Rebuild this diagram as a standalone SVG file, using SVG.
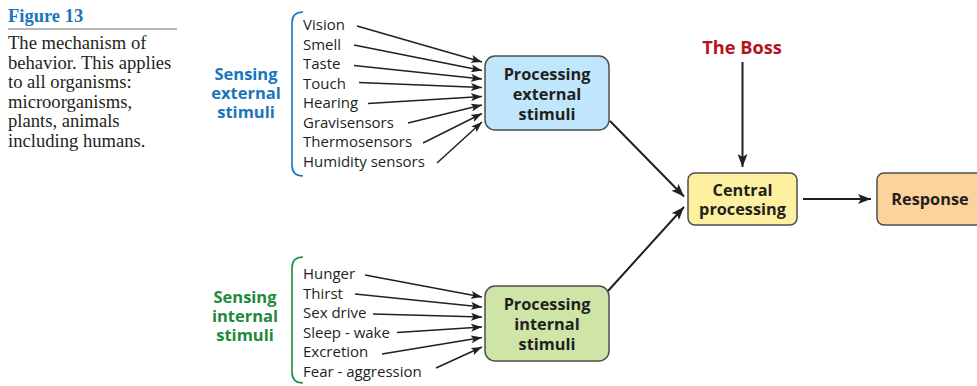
<svg xmlns="http://www.w3.org/2000/svg" width="977" height="386" viewBox="0 0 977 386">
<style>
.cap{font-family:"Liberation Serif","Times New Roman",serif;font-size:18.6px;fill:#231f20}
.fig{font-family:"Liberation Serif","Times New Roman",serif;font-size:18.5px;font-weight:bold;fill:#1a75bb}
.item{font-family:"Open Sans","Noto Sans",sans-serif;font-size:15px;fill:#231f20}
.head{font-family:"Open Sans","Noto Sans",sans-serif;font-size:16.5px;font-weight:bold;text-anchor:middle}
.box{stroke:#4d4d4d;stroke-width:1.5}
.btxt{font-family:"Open Sans","Noto Sans",sans-serif;font-size:16.3px;font-weight:bold;fill:#231f20;text-anchor:middle}
.ln{stroke:#231f20;stroke-width:1.5;fill:none;marker-end:url(#ah)}
.ln2{stroke:#231f20;stroke-width:2;fill:none;marker-end:url(#ah2)}
</style>
<defs>
<marker id="ah" markerUnits="userSpaceOnUse" markerWidth="12" markerHeight="8" refX="11" refY="4" orient="auto">
<path d="M0,0 L11,4 L0,8 L2.5,4 z" fill="#231f20"/>
</marker>
<marker id="ah2" markerUnits="userSpaceOnUse" markerWidth="14" markerHeight="10" refX="13" refY="5" orient="auto">
<path d="M0,0 L13,5 L0,10 L3,5 z" fill="#231f20"/>
</marker>
</defs>

<g id="caption">
<text class="fig" x="8" y="22">Figure 13</text>
<line x1="8" y1="29" x2="177" y2="29" stroke="#6d6e71" stroke-width="1.2"/>
<text class="cap" x="8" y="49">The mechanism of</text>
<text class="cap" x="8" y="69">behavior. This applies</text>
<text class="cap" x="8" y="88">to all organisms:</text>
<text class="cap" x="8" y="108">microorganisms,</text>
<text class="cap" x="8" y="127">plants, animals</text>
<text class="cap" x="8" y="147">including humans.</text>
</g>

<g id="sensing-external">
<text class="head" fill="#1a75bb" x="246" y="80">Sensing</text>
<text class="head" fill="#1a75bb" x="246" y="99">external</text>
<text class="head" fill="#1a75bb" x="246" y="118">stimuli</text>
<path d="M303,12 Q292,12 292,23 L292,165 Q292,176 303,176" fill="none" stroke="#1a75bb" stroke-width="1.6"/>
<text class="item" x="303" y="30">Vision</text>
<text class="item" x="303" y="49.5">Smell</text>
<text class="item" x="303" y="69">Taste</text>
<text class="item" x="303" y="88.5">Touch</text>
<text class="item" x="303" y="108">Hearing</text>
<text class="item" x="303" y="127.5">Gravisensors</text>
<text class="item" x="303" y="147">Thermosensors</text>
<text class="item" x="303" y="166.5">Humidity sensors</text>
</g>

<g id="sensing-internal">
<text class="head" fill="#1f8a3b" x="245" y="303">Sensing</text>
<text class="head" fill="#1f8a3b" x="245" y="322">internal</text>
<text class="head" fill="#1f8a3b" x="245" y="341">stimuli</text>
<path d="M303,257 Q292,257 292,268 L292,372 Q292,383 303,383" fill="none" stroke="#1f8a3b" stroke-width="1.6"/>
<text class="item" x="303" y="279">Hunger</text>
<text class="item" x="303" y="298.5">Thirst</text>
<text class="item" x="303" y="318">Sex drive</text>
<text class="item" x="303" y="337.5">Sleep - wake</text>
<text class="item" x="303" y="357">Excretion</text>
<text class="item" x="303" y="376.5">Fear - aggression</text>
</g>

<g id="processing-external">
<rect class="box" x="485" y="56" width="124" height="74" rx="10" fill="#bfe6fa"/>
<text class="btxt" x="547" y="80">Processing</text>
<text class="btxt" x="547" y="100">external</text>
<text class="btxt" x="547" y="120">stimuli</text>
</g>

<g id="processing-internal">
<rect class="box" x="485" y="286" width="124" height="75" rx="10" fill="#cfe4a7"/>
<text class="btxt" x="547" y="310">Processing</text>
<text class="btxt" x="547" y="330">internal</text>
<text class="btxt" x="547" y="350">stimuli</text>
</g>

<g id="the-boss">
<text x="742" y="54" font-family="'Open Sans','Noto Sans',sans-serif" font-size="18.2" font-weight="bold" fill="#b5121b" text-anchor="middle">The Boss</text>
</g>

<g id="central-processing">
<rect class="box" x="688" y="173" width="109" height="52" rx="7" fill="#fdf0a0"/>
<text class="btxt" x="742.5" y="196">Central</text>
<text class="btxt" x="742.5" y="215">processing</text>
</g>

<g id="response">
<rect class="box" x="877" y="173" width="110" height="52" rx="7" fill="#fdd39c"/>
<text class="btxt" x="930" y="205">Response</text>
</g>

<g id="connectors">
<line class="ln" x1="357" y1="26" x2="482" y2="62"/>
<line class="ln" x1="354" y1="45" x2="482" y2="70.5"/>
<line class="ln" x1="354" y1="65.5" x2="482" y2="79"/>
<line class="ln" x1="359" y1="82.5" x2="482" y2="87.5"/>
<line class="ln" x1="368" y1="103.5" x2="482" y2="96.5"/>
<line class="ln" x1="408" y1="123" x2="482" y2="105"/>
<line class="ln" x1="423" y1="143" x2="482" y2="113.5"/>
<line class="ln" x1="437" y1="163" x2="482" y2="122"/>

<line class="ln" x1="365" y1="275" x2="482" y2="297"/>
<line class="ln" x1="355" y1="294" x2="482" y2="307"/>
<line class="ln" x1="373" y1="314" x2="482" y2="317"/>
<line class="ln" x1="397" y1="332.5" x2="482" y2="327"/>
<line class="ln" x1="382" y1="354" x2="482" y2="337.5"/>
<line class="ln" x1="436" y1="368" x2="482" y2="347"/>

<line class="ln2" x1="610" y1="121" x2="684" y2="196.5"/>
<line class="ln2" x1="608" y1="291" x2="684" y2="207"/>
<line class="ln2" x1="742.5" y1="62" x2="742.5" y2="167"/>
<line class="ln2" x1="803" y1="199" x2="871" y2="199"/>
</g>
</svg>
